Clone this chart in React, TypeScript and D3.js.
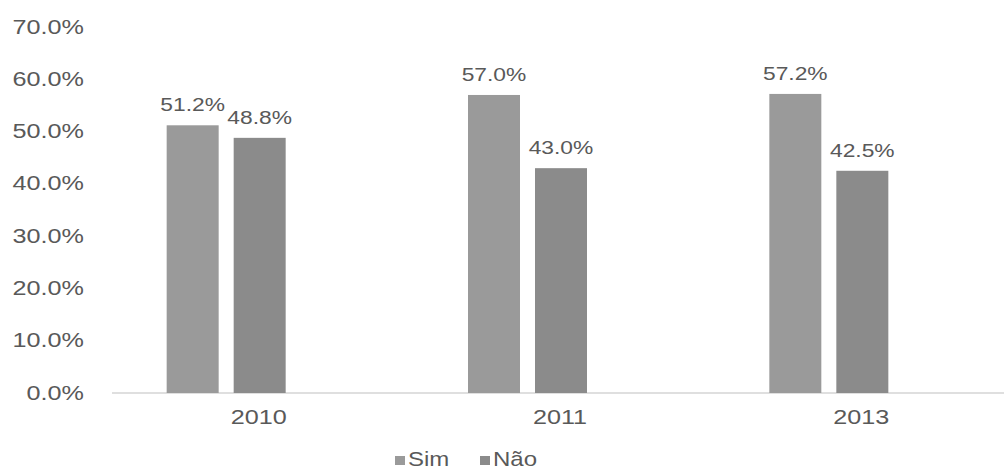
import React from "react";
import * as d3 from "d3";

const years = ["2010", "2011", "2013"];
const seriesNames = ["Sim", "Não"];
const simValues = [0.512, 0.57, 0.572];
const naoValues = [0.488, 0.43, 0.425];
const yTicks = [0, 0.1, 0.2, 0.3, 0.4, 0.5, 0.6, 0.7];
const colors = ["#9a9a9a", "#8b8b8b"];

const W = 1004;
const H = 471;
const TEXT = "#595959";
const FONT = "'Liberation Sans', Arial, sans-serif";
const SX = 1.2;

function SText({ x, y, size, anchor, children }: any) {
  return (
    <g transform={`translate(${x},${y}) scale(${SX},1)`}>
      <text x={0} y={0} fontSize={size} fontFamily={FONT} fill={TEXT} textAnchor={anchor} dominantBaseline="middle">
        {children}
      </text>
    </g>
  );
}

export default function App() {
  const y = d3.scaleLinear().domain([0, 0.7]).range([393, 27]);
  const x = d3.scaleBand().domain(years).range([75, 979]).paddingInner(0);
  const inner = d3.scaleBand().domain(seriesNames).range([-59, 60]).paddingInner(0.224);
  const fmt = d3.format(".1%");
  const data = [simValues, naoValues];

  return (
    <svg width={W} height={H} style={{ position: "absolute", left: 0, top: 0, background: "#fff" }}>
      <rect x={0} y={0} width={W} height={H} fill="#fff" />
      {yTicks.map((t) => (
        <SText key={t} x={84} y={y(t) + 1} size={21} anchor="end">
          {fmt(t)}
        </SText>
      ))}
      <line x1={112} x2={1004} y1={y(0)} y2={y(0)} stroke="#d4d4d4" strokeWidth={1.5} />
      {years.map((yr, i) => {
        const cx = (x(yr) as number) + x.bandwidth() / 2;
        return (
          <g key={yr}>
            {seriesNames.map((s, j) => {
              const v = data[j][i];
              const bx = cx + (inner(s) as number);
              const bw = inner.bandwidth();
              return (
                <g key={s}>
                  <rect x={bx} y={y(v)} width={bw} height={y(0) - y(v)} fill={colors[j]} />
                  <SText x={bx + bw / 2} y={y(v) - 19} size={19} anchor="middle">
                    {fmt(v)}
                  </SText>
                </g>
              );
            })}
            <SText x={cx + 33} y={418} size={21} anchor="middle">
              {yr}
            </SText>
          </g>
        );
      })}
      {seriesNames.map((s, j) => {
        const lx = [395, 480][j];
        return (
          <g key={s}>
            <rect x={lx} y={456} width={10} height={9} fill={colors[j]} />
            <SText x={lx + 13} y={461} size={20} anchor="start">
              {s}
            </SText>
          </g>
        );
      })}
    </svg>
  );
}
